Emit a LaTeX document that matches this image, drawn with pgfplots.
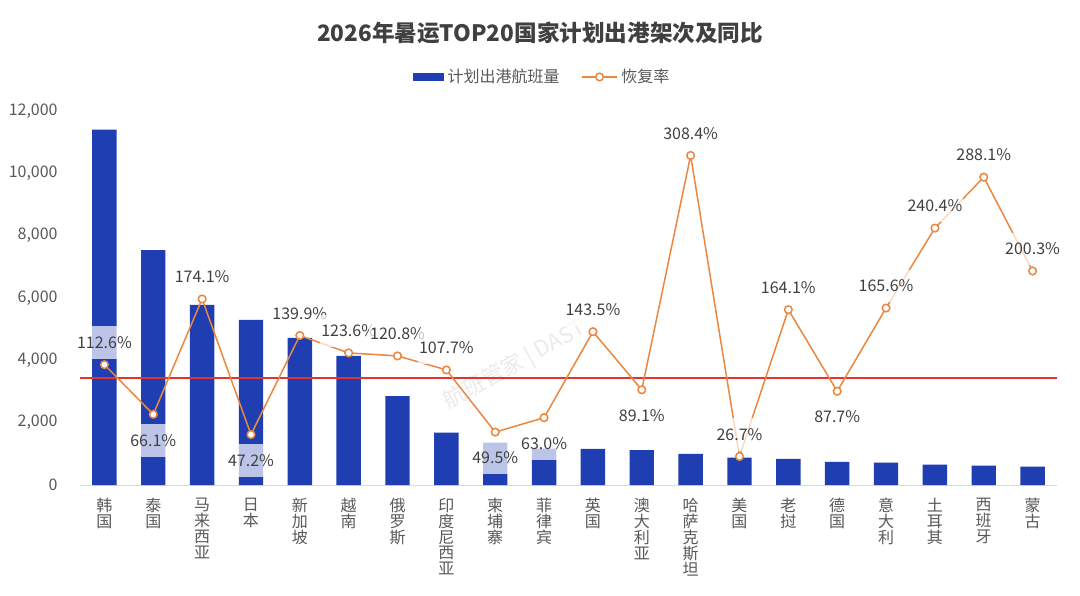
\documentclass[border=0pt]{standalone}
\usepackage{fontspec}
\setmainfont{Noto Sans CJK SC}
\usepackage{pgfplots}
\usepackage{pgfplotstable}
\pgfplotsset{compat=1.18}
\definecolor{barblue}{RGB}{31,62,178}
\definecolor{lineorange}{RGB}{234,135,64}
\definecolor{refred}{RGB}{230,50,45}
\definecolor{txtdark}{RGB}{64,64,64}
\definecolor{txtgray}{RGB}{89,89,89}
\definecolor{axisgray}{RGB}{217,217,217}
\pgfplotstableread{
x flights rate pos
0 11400 112.6 11
1 7540 66.1 -13
2 5780 174.1 11
3 5300 47.2 -13
4 4720 139.9 11
5 4140 123.6 11
6 2850 120.8 11
7 1680 107.7 11
8 1360 49.5 -13
9 1165 63.0 -13
10 1160 143.5 11
11 1120 89.1 -13
12 1000 308.4 11
13 880 26.7 11
14 840 164.1 11
15 740 87.7 -13
16 715 165.6 11
17 650 240.4 11
18 620 288.1 11
19 590 200.3 11
}\data
\begin{document}
\begin{tikzpicture}
\path[use as bounding box, fill=white] (0,0) rectangle (540pt,297.5pt);
\begin{axis}[
  at={(40pt,55pt)}, anchor=south west,
  scale only axis, width=488.5pt, height=187pt,
  xmin=-0.5, xmax=19.5, ymin=0, ymax=12000,
  axis x line*=bottom, axis y line*=left,
  axis line style={-},
  x axis line style={draw=axisgray, line width=0.5pt},
  y axis line style={draw=none},
  major tick length=0pt,
  ytick={0,2000,...,12000},
  scaled y ticks=false,
  /pgf/number format/assume math mode=true,
  yticklabel={\pgfmathprintnumber[1000 sep={,}]{\tick}},
  yticklabel style={font=\fontsize{8}{9}\selectfont, text=txtgray, anchor=east, inner sep=0pt, xshift=-11pt},
  xtick={0,...,19},
  xticklabels={{韩\\国},{泰\\国},{马\\来\\西\\亚},{日\\本},{新\\加\\坡},{越\\南},{俄\\罗\\斯},{印\\度\\尼\\西\\亚},{柬\\埔\\寨},{菲\\律\\宾},{英\\国},{澳\\大\\利\\亚},{哈\\萨\\克\\斯\\坦},{美\\国},{老\\挝},{德\\国},{意\\大\\利},{土\\耳\\其},{西\\班\\牙},{蒙\\古}},
  xticklabel style={font=\fontsize{8}{7.9}\selectfont, text=txtgray, align=center, anchor=north, inner sep=0pt, yshift=-6.5pt},
]
\addplot[ybar, bar width=12.2pt, fill=barblue, draw=none] table[x=x, y=flights] {\data};
\end{axis}
\begin{axis}[
  at={(40pt,55pt)}, anchor=south west,
  scale only axis, width=488.5pt, height=187pt,
  xmin=-0.5, xmax=19.5, ymin=0, ymax=350,
  hide axis,
  clip=false,
  /pgf/number format/assume math mode=true,
  legend style={at={(0.474,1.091)}, anchor=center, draw=none, fill=none,
    font=\fontsize{8}{9}\selectfont, text=txtgray, legend columns=2,
    /tikz/every even column/.append style={column sep=9pt},
    inner sep=0pt},
]
\node[rotate=29, text=black!8, font=\fontsize{11}{11}\selectfont] at (axis cs:8.4,112) {航班管家 | DAST};
\addlegendimage{legend image code/.code={\fill[barblue] (0pt,-1.75pt) rectangle (15pt,1.75pt);}}
\addlegendentry{计划出港航班量}
\addplot[refred, line width=0.75pt, forget plot] coordinates {(-0.5,100) (19.5,100)};
\addplot[lineorange, line width=0.75pt, mark=*, mark size=1.9pt,
  mark options={fill=white, draw=lineorange, line width=0.75pt},
  visualization depends on={\thisrow{pos}\as\lpos},
  nodes near coords={\pgfmathprintnumber[fixed, fixed zerofill, precision=1]{\pgfplotspointmeta}\%},
  every node near coord/.append style={anchor=center, yshift=\lpos*1pt,
    font=\fontsize{8}{9}\selectfont, text=txtdark, fill=white, fill opacity=0.7, text opacity=1,
    inner xsep=0.5pt, inner ysep=5pt, text height=6pt, text depth=0.3pt},
] table[x=x, y=rate, meta=rate] {\data};
\addlegendentry{恢复率}
\end{axis}
\node[font=\fontsize{11.3}{13}\selectfont\bfseries, text=txtdark] at (270pt,281pt) {2026年暑运TOP20国家计划出港架次及同比};
\end{tikzpicture}
\end{document}
